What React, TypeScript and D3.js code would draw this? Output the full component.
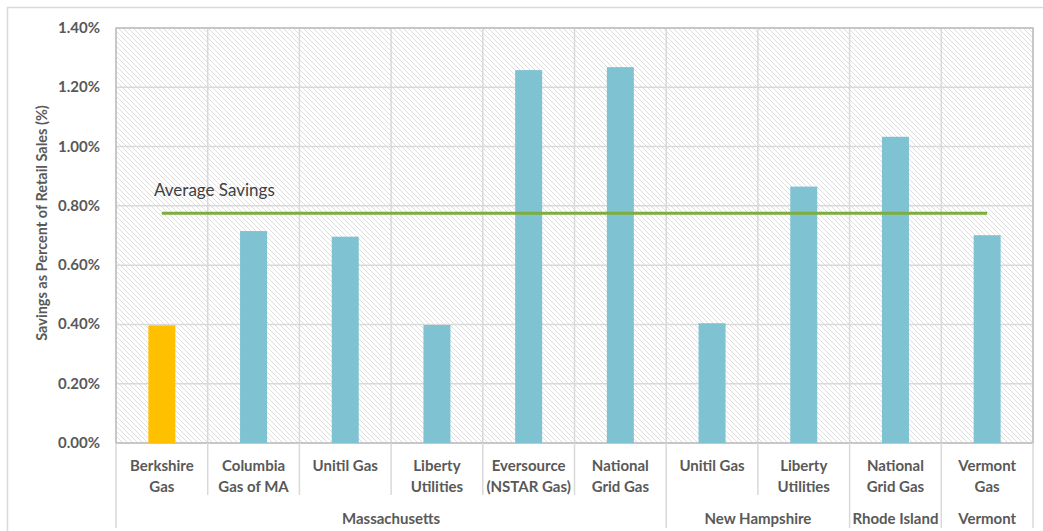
import React from "react";
import * as d3 from "d3";

const categories = [
  "Berkshire Gas",
  "Columbia Gas of MA",
  "Unitil Gas",
  "Liberty Utilities",
  "Eversource (NSTAR Gas)",
  "National Grid Gas",
  "Unitil Gas",
  "Liberty Utilities",
  "National Grid Gas",
  "Vermont Gas",
];
const categoryLines = [
  ["Berkshire", "Gas"],
  ["Columbia", "Gas of MA"],
  ["Unitil Gas"],
  ["Liberty", "Utilities"],
  ["Eversource", "(NSTAR Gas)"],
  ["National", "Grid Gas"],
  ["Unitil Gas"],
  ["Liberty", "Utilities"],
  ["National", "Grid Gas"],
  ["Vermont", "Gas"],
];
const savings = [0.397, 0.715, 0.696, 0.398, 1.258, 1.268, 0.404, 0.865, 1.033, 0.701];
const highlighted = [true, false, false, false, false, false, false, false, false, false];
const averageSavings = 0.775;
const groups = [
  { name: "Massachusetts", start: 0, end: 6 },
  { name: "New Hampshire", start: 6, end: 8 },
  { name: "Rhode Island", start: 8, end: 9 },
  { name: "Vermont", start: 9, end: 10 },
];
const yTicks = [0, 0.2, 0.4, 0.6, 0.8, 1.0, 1.2, 1.4];

export default function App() {
  const W = 1043, H = 531;
  const left = 116, right = 1033, top = 28, bottom = 443;
  const x = d3.scaleBand<number>().domain(d3.range(categories.length)).range([left, right]).paddingInner(0).paddingOuter(0);
  const y = d3.scaleLinear().domain([0, 1.4]).range([bottom, top]);
  const bw = x.bandwidth();
  const barW = 27;
  const font = "Lato, 'Open Sans', sans-serif";
  const textCol = "#595959";
  const grid = "#d9d9d9";

  return (
    <svg width={W} height={H} style={{ position: "absolute", left: 0, top: 0, background: "#fff" }}>
      <defs>
        <pattern id="hatch" patternUnits="userSpaceOnUse" width="5" height="5">
          <path d="M-1,-1 L6,6 M-1,4 L1,6 M4,-1 L6,1" stroke="#dedede" strokeWidth="1" />
        </pattern>
      </defs>
      <rect x={0} y={0} width={W} height={H} fill="#fff" />
      <path d={`M7.5,${H} V7.5 H${W}`} fill="none" stroke="#d9d9d9" strokeWidth={1.5} />
      <rect x={left} y={top} width={right - left} height={bottom - top} fill="url(#hatch)" />
      {yTicks.map((t) => (
        <line key={"g" + t} x1={left} x2={right} y1={y(t)} y2={y(t)} stroke={grid} strokeWidth={1.5} />
      ))}
      {d3.range(categories.length + 1).map((i) => {
        const xx = i < categories.length ? (x(i) as number) : right;
        return <line key={"v" + i} x1={xx} x2={xx} y1={top} y2={bottom} stroke={grid} strokeWidth={1.5} />;
      })}
      <rect x={left} y={top} width={right - left} height={bottom - top} fill="none" stroke="#bfbfbf" strokeWidth={1.5} />
      {savings.map((v, i) => (
        <rect
          key={"b" + i}
          x={(x(i) as number) + bw / 2 - barW / 2}
          y={y(v)}
          width={barW}
          height={y(0) - y(v)}
          fill={highlighted[i] ? "#ffc000" : "#7fc2d2"}
        />
      ))}
      <line
        x1={(x(0) as number) + bw / 2}
        x2={(x(categories.length - 1) as number) + bw / 2}
        y1={y(averageSavings)}
        y2={y(averageSavings)}
        stroke="#7dad3b"
        strokeWidth={3}
      />
      <text x={154} y={196} fontFamily={font} fontSize={17} fill="#404040">
        Average Savings
      </text>
      {yTicks.map((t) => (
        <text key={"t" + t} x={100} y={y(t) + 5} textAnchor="end" fontFamily={font} fontWeight="bold" fontSize={15} fill={textCol}>
          {d3.format(".2f")(t) + "%"}
        </text>
      ))}
      <text
        transform={`translate(47,223) rotate(-90)`}
        textAnchor="middle"
        fontFamily={font}
        fontWeight="bold"
        fontSize={14.5}
        fill={textCol}
      >
        Savings as Percent of Retail Sales (%)
      </text>
      {d3.range(categories.length + 1).map((i) => {
        const xx = i < categories.length ? (x(i) as number) : right;
        const isGroupEdge = groups.some((g) => g.start === i || g.end === i);
        return (
          <line key={"s" + i} x1={xx} x2={xx} y1={bottom} y2={isGroupEdge ? 528 : 495} stroke={grid} strokeWidth={1.5} />
        );
      })}
      {categoryLines.map((lines, i) => (
        <text key={"c" + i} textAnchor="middle" fontFamily={font} fontWeight="bold" fontSize={15} fill={textCol}>
          {lines.map((l, j) => (
            <tspan key={j} x={(x(i) as number) + bw / 2} y={471 + j * 21}>
              {l}
            </tspan>
          ))}
        </text>
      ))}
      {groups.map((g) => {
        const cx = ((x(g.start) as number) + (g.end < categories.length ? (x(g.end) as number) : right)) / 2;
        return (
          <text key={g.name} x={cx} y={524} textAnchor="middle" fontFamily={font} fontWeight="bold" fontSize={15} fill={textCol}>
            {g.name}
          </text>
        );
      })}
    </svg>
  );
}
